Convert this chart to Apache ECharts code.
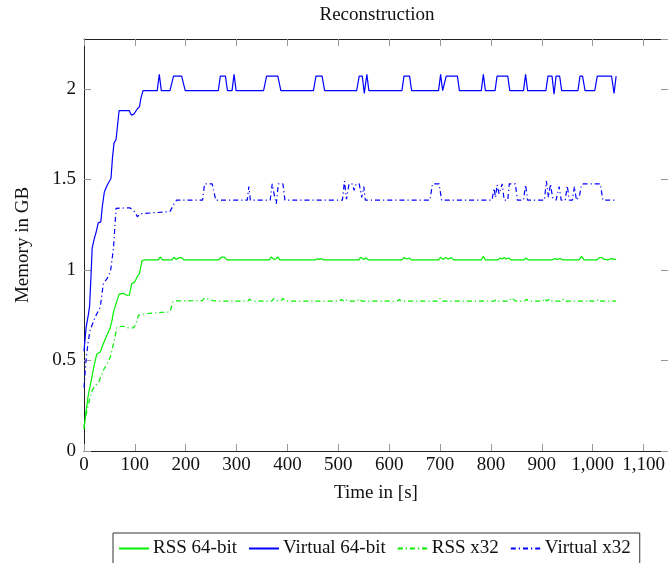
<!DOCTYPE html>
<html>
<head>
<meta charset="utf-8">
<script src="https://cdn.jsdelivr.net/npm/echarts@6/dist/echarts.min.js"></script>
<style>
html,body{margin:0;padding:0;background:#fff;}
#c{width:668px;height:563px;}
</style>
</head>
<body>
<div id="c"></div>
<script>
// ---- data (time in s, memory in GB) ----
const virt64T = [0,4,9,11,14,16,20,24,28,33,36,40,46,53,56,59,63,66,69,89,93,98,101,105,109,112,116,
  144,148,152,169,176,192,199,264,268,278,282,291,295,299,353,359,381,387,451,456,468,473,
  536,541,547,551,556,560,625,629,640,644,697,701,705,708,712,734,738,781,785,789,808,812,833,837,
  864,868,872,908,912,920,924,928,935,939,971,975,980,985,1004,1009,1037,1042,1046];
const virt64V = [0.55,0.68,0.76,0.80,0.98,1.12,1.17,1.21,1.26,1.265,1.35,1.43,1.47,1.505,1.62,1.70,1.72,1.80,1.88,1.88,1.855,1.86,1.868,1.89,1.90,1.95,1.99,
  1.99,2.08,1.99,1.99,2.07,2.07,1.99,1.99,2.07,2.07,1.99,1.99,2.08,1.99,1.99,2.07,2.07,1.99,1.99,2.07,2.07,1.99,
  1.99,2.07,2.07,1.975,2.08,1.99,1.99,2.07,2.07,1.99,1.99,2.08,1.99,1.99,2.07,2.07,1.99,1.99,2.08,1.99,1.99,2.07,2.07,1.99,
  1.99,2.08,1.99,1.99,2.07,2.07,1.97,2.07,2.07,1.99,1.99,2.07,2.07,1.99,1.99,2.07,2.07,1.975,2.07];

const virt32T = [0,4,8,12,22,32,38,45,52,58,63,90,94,100,105,110,169,176,182,
  233,237,252,259,321,324,327,366,370,375,378,382,391,395,
  508,512,516,521,527,531,535,541,546,550,553,680,685,698,703,
  802,806,809,812,816,822,826,833,836,848,852,864,868,872,
  905,909,913,917,921,928,934,938,946,950,954,960,964,968,974,978,982,1015,1020,1046];
const virt32V = [0.35,0.50,0.60,0.667,0.74,0.795,0.925,0.95,0.99,1.12,1.34,1.343,1.335,1.32,1.293,1.31,1.322,1.36,1.385,
  1.385,1.475,1.475,1.385,1.385,1.46,1.385,1.385,1.475,1.40,1.365,1.475,1.475,1.385,
  1.385,1.49,1.39,1.475,1.475,1.44,1.475,1.475,1.40,1.46,1.385,1.385,1.475,1.475,1.385,
  1.385,1.45,1.40,1.47,1.42,1.475,1.385,1.385,1.475,1.475,1.385,1.385,1.47,1.385,
  1.385,1.49,1.40,1.475,1.40,1.385,1.46,1.385,1.385,1.465,1.385,1.385,1.46,1.385,1.41,1.47,1.475,1.475,1.385,1.385];

const rss64T = [0,4,9,15,19,25,32,37,42,51,55,58,63,69,78,84,89,94,100,105,109,114,118,
  146,150,154,173,177,181,188,192,196,265,270,276,281,364,368,372,377,381,385,455,459,463,467,471,
  540,544,549,555,559,625,629,634,639,643,697,701,706,711,716,722,727,781,785,789,
  813,818,822,826,830,835,839,865,869,873,920,926,931,936,941,973,978,983,1008,1013,1018,1023,1030,1036,1042,1046];
const rss64V = [0.12,0.22,0.32,0.40,0.46,0.535,0.547,0.585,0.62,0.676,0.72,0.768,0.814,0.866,0.87,0.86,0.86,0.925,0.934,0.965,0.98,1.05,1.055,
  1.055,1.072,1.055,1.055,1.07,1.058,1.068,1.068,1.055,1.055,1.07,1.07,1.055,1.055,1.072,1.06,1.06,1.072,1.055,1.055,1.062,1.058,1.062,1.055,
  1.055,1.07,1.058,1.065,1.055,1.055,1.068,1.06,1.066,1.055,1.055,1.07,1.058,1.068,1.06,1.068,1.055,1.055,1.075,1.055,
  1.055,1.066,1.06,1.068,1.06,1.066,1.055,1.055,1.066,1.055,1.055,1.062,1.058,1.063,1.055,1.055,1.075,1.055,1.055,1.068,1.068,1.058,1.055,1.062,1.058,1.06];

const rss32T = [0,4,9,16,22,29,38,45,52,58,65,77,87,97,102,107,123,150,169,175,180,
  232,237,245,254,262,322,326,330,369,373,378,387,391,396,
  502,506,510,514,518,537,541,546,616,620,624,696,700,705,806,810,814,836,840,845,849,866,870,874,
  902,906,910,916,920,936,940,944,988,992,996,1008,1012,1016,1046];
const rss32V = [0.13,0.20,0.262,0.335,0.36,0.381,0.446,0.48,0.52,0.593,0.685,0.689,0.68,0.68,0.70,0.75,0.759,0.765,0.768,0.823,0.829,
  0.83,0.845,0.838,0.83,0.828,0.828,0.838,0.828,0.828,0.842,0.83,0.83,0.842,0.828,
  0.828,0.836,0.828,0.838,0.828,0.828,0.84,0.828,0.828,0.836,0.828,0.828,0.842,0.828,0.828,0.836,0.828,0.828,0.845,0.835,0.828,0.828,0.838,0.828,
  0.828,0.842,0.828,0.84,0.828,0.828,0.84,0.828,0.828,0.836,0.828,0.828,0.838,0.828,0.828];

const seriesNames = ['RSS 64-bit','Virtual 64-bit','RSS x32','Virtual x32'];
const xTickInterval = 100;
const yTickInterval = 0.5;

// ---- chart ----
const FONT = '"Liberation Serif", "DejaVu Serif", serif';
const FS = 19;
const zip = (t, v) => t.map((x, i) => [x, v[i]]);
const dashDot = [5, 3, 1.2, 3];
const green = '#00f000';
const blue = '#0000ff';

const chart = echarts.init(document.getElementById('c'), null, {renderer: 'canvas'});
const axisCommon = {
  min: 0,
  splitLine: {show: false},
  axisLine: {show: true, onZero: false, lineStyle: {color: '#222', width: 1}},
  axisTick: {show: true, inside: true, length: 7, lineStyle: {color: '#999', width: 1}},
};
chart.setOption({
  animation: false,
  backgroundColor: '#fff',
  title: {
    text: 'Reconstruction',
    left: 377, top: 6, padding: 0,
    textAlign: 'center',
    textStyle: {fontFamily: FONT, fontSize: FS, fontWeight: 'normal', color: '#111'}
  },
  grid: {left: 84, top: 39, width: 586, height: 412, containLabel: false},
  legend: {
    data: seriesNames,
    left: 113, top: 533,
    orient: 'horizontal',
    itemWidth: 30, itemHeight: 10, itemGap: 11,
    padding: [6, 9, 6, 5],
    borderColor: '#333', borderWidth: 1,
    itemStyle: {opacity: 0},
    textStyle: {fontFamily: FONT, fontSize: FS, color: '#111', padding: [0, 0, 0, -1]}
  },
  xAxis: [
    Object.assign({}, axisCommon, {
      type: 'value', position: 'bottom', max: 1148, interval: xTickInterval,
      name: 'Time in [s]', nameLocation: 'middle', nameGap: 33,
      nameTextStyle: {fontFamily: FONT, fontSize: FS, color: '#111'},
      axisLabel: {
        fontFamily: FONT, fontSize: FS, color: '#111', margin: 5, showMaxLabel: false,
        formatter: v => v.toString().replace(/\B(?=(\d{3})+(?!\d))/g, ',')
      }
    }),
    Object.assign({}, axisCommon, {
      type: 'value', position: 'top', max: 1148, interval: xTickInterval,
      axisLabel: {show: false}
    })
  ],
  yAxis: [
    Object.assign({}, axisCommon, {
      type: 'value', position: 'left', max: 2.275, interval: yTickInterval,
      name: 'Memory in GB', nameLocation: 'middle', nameGap: 51,
      nameTextStyle: {fontFamily: FONT, fontSize: FS, color: '#111'},
      axisLabel: {fontFamily: FONT, fontSize: FS, color: '#111', margin: 8, showMaxLabel: false}
    }),
    Object.assign({}, axisCommon, {
      type: 'value', position: 'right', max: 2.275, interval: yTickInterval,
      axisLabel: {show: false}
    })
  ],
  series: [
    {name: seriesNames[0], type: 'line', data: zip(rss64T, rss64V), symbol: 'none', color: green,
     lineStyle: {color: green, width: 1.2, type: 'solid'}},
    {name: seriesNames[1], type: 'line', data: zip(virt64T, virt64V), symbol: 'none', color: blue,
     lineStyle: {color: blue, width: 1.2, type: 'solid'}},
    {name: seriesNames[2], type: 'line', data: zip(rss32T, rss32V), symbol: 'none', color: green,
     lineStyle: {color: green, width: 1.2, type: dashDot}},
    {name: seriesNames[3], type: 'line', data: zip(virt32T, virt32V), symbol: 'none', color: blue,
     lineStyle: {color: blue, width: 1.2, type: dashDot}}
  ]
});
</script>
</body>
</html>
